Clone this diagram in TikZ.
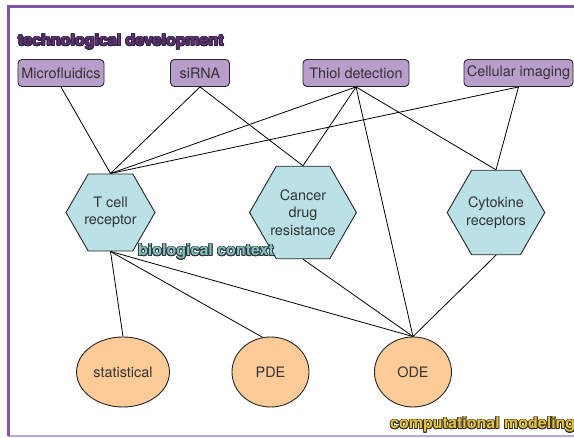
\documentclass[tikz,border=0pt]{standalone}
\usepackage{fontspec}
\setmainfont{TeX Gyre Heros}
\usepackage{xcolor}
\usepackage{contour}
\usetikzlibrary{shapes}
\contourlength{0.8pt}
\definecolor{framepurple}{HTML}{7D55AA}
\definecolor{framelight}{HTML}{B9A8D6}
\definecolor{techfill}{HTML}{B99DCB}
\definecolor{techlabel}{HTML}{5A3470}
\definecolor{biofill}{HTML}{BAE1E6}
\definecolor{biolabel}{HTML}{7FC2C2}
\definecolor{modelfill}{HTML}{FDCB98}
\definecolor{modellabel}{HTML}{E9C233}
\definecolor{inktext}{HTML}{333333}

\begin{document}
\begin{tikzpicture}[x=1pt, y=1pt, font=\fontsize{14.4}{17.5}\selectfont, text=inktext]
			\tikzstyle{technode}=[
			draw=black!85,
			fill=techfill,
			rounded corners=4pt,
			minimum height=27pt,
			inner sep=0pt,
			line width=0.9pt
			]
			\tikzstyle{bionode}=[
			draw=black!85,
			fill=biofill,
			regular polygon,
			regular polygon sides=6,
			inner sep=0pt,
			minimum size=89pt,
			align=center,
			line width=0.9pt
			]
			\tikzstyle{modelnode}=[
			draw=black!85,
			fill=modelfill,
			ellipse,
			minimum width=77pt,
			minimum height=70pt,
			line width=0.9pt
			]
			\tikzstyle{areaname}=[
			anchor=west,
			inner sep=0pt,
			font=\fontsize{16}{18}\selectfont\bfseries
			]
			\tikzstyle{link}=[line width=0.8pt]
			\useasboundingbox (0,0) rectangle (574,438);
			% frame
			\draw[framelight, line width=2pt] (8,2) -- (574,2);
			\draw[framepurple, line width=3pt] (574,431) -- (8,431) -- (8,2);
			% nodes
			\node[technode, minimum width=86pt] (MICRO) at (61,365) {Microfluidics};
			\node[technode, minimum width=59pt] (SIRNA) at (200,365) {siRNA};
			\node[technode, minimum width=106pt] (THIOL) at (356,365) {Thiol detection};
			\node[technode, minimum width=109pt] (IMAGING) at (518.5,365) {Cellular imaging};
			\node[bionode] (TCELL) at (110.5,225.5) {T cell\\receptor};
			\node[bionode, minimum size=98pt] (CANCER) at (303,225.5) {Cancer\\drug\\resistance};
			\node[bionode] (CYTO) at (496,225.5) {Cytokine\\receptors};
			\node[modelnode] (STAT) at (123,66) {statistical};
			\node[modelnode] (PDE) at (270.5,66) {PDE};
			\node[modelnode] (ODE) at (413,66) {ODE};
			% edges
			\draw[link] (MICRO.south) -- (TCELL.north);
			\draw[link] (SIRNA.south) -- (TCELL.north);
			\draw[link] (SIRNA.south) -- (CANCER.north);
			\draw[link] (THIOL.south) -- (TCELL.north);
			\draw[link] (THIOL.south) -- (CANCER.north);
			\draw[link] (THIOL.south) -- (ODE.north);
			\draw[link] (THIOL.south) -- (CYTO.north);
			\draw[link] (IMAGING.south) -- (TCELL.north);
			\draw[link] (IMAGING.south) -- (CYTO.north);
			\draw[link] (TCELL.south) -- (STAT.north);
			\draw[link] (TCELL.south) -- (PDE.103);
			\draw[link] (TCELL.south) -- (ODE.north);
			\draw[link] (CANCER.south) -- (ODE.north);
			\draw[link] (CYTO.south) -- (ODE.north);
			% area names
			\node[areaname] (TECH) at (18,396) {\contour{techlabel!60!black}{\textcolor{techlabel}{technological development}}};
			\node[areaname] (BIO) at (138,186) {\contour{black!80}{\textcolor{biolabel}{biological context}}};
			\node[areaname] (COMP) at (390,13) {\contour{black!80}{\textcolor{modellabel}{computational modeling}}};
			%\node[draw=red, fit=(TCELL)] {};
		\end{tikzpicture}
\end{document}
